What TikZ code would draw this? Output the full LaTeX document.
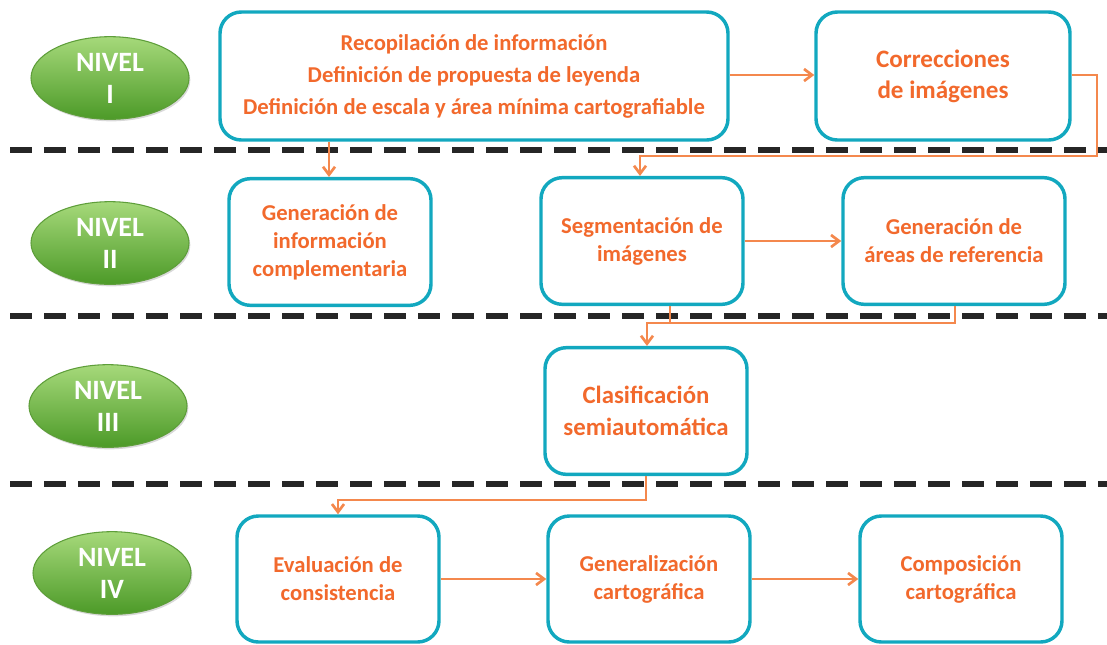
\documentclass[tikz,border=0pt]{standalone}
\usepackage{fontspec}
\setmainfont{Carlito}
\usetikzlibrary{shapes.geometric,arrows.meta,shadows}
\definecolor{teal}{HTML}{12A8BF}
\definecolor{orng}{HTML}{F2692C}
\definecolor{lnorng}{HTML}{F4884D}
\definecolor{gtop}{HTML}{A6D97A}
\definecolor{gbot}{HTML}{4C9A28}
\definecolor{gline}{HTML}{5E9E3A}
\tikzset{
  box/.style={draw=teal,line width=2.6pt,rounded corners=16pt,fill=white,
    text=orng,font=\bfseries\fontsize{17}{21}\selectfont,align=center,inner sep=0pt},
  nivel/.style={ellipse,draw=gline,line width=0.8pt,top color=gtop,bottom color=gbot,
    text=white,font=\fontsize{21}{24}\selectfont\bfseries,align=center,
    minimum width=118.5pt,minimum height=62pt,inner sep=0pt,
    drop shadow={shadow xshift=1pt,shadow yshift=-1.5pt,opacity=0.3}},
  sep/.style={draw=black!85,line width=3.8pt,dash pattern=on 16.5pt off 9pt},
  conn/.style={draw=lnorng,line width=2.2pt,-{Straight Barb[length=6pt,width=9pt,line width=2pt]}},
  seg/.style={draw=lnorng,line width=2.2pt}
}
\begin{document}
\begin{tikzpicture}[x=0.75pt,y=-0.75pt]
\useasboundingbox (0,0) rectangle (1107,644);
% separators
\draw[sep] (10,150) -- (1107,150);
\draw[sep] (10,316) -- (1107,316);
\draw[sep] (10,484) -- (1107,484);
% levels
\node[nivel] (n1) at (110,78) {NIVEL\\I};
\node[nivel] (n2) at (110,243) {NIVEL\\II};
\node[nivel] (n3) at (108,406) {NIVEL\\III};
\node[nivel] (n4) at (112,573) {NIVEL\\IV};
% boxes
\node[box,minimum width=381pt,minimum height=96pt,font=\bfseries\fontsize{17}{24}\selectfont] (b1) at (474,76) {Recopilación de información\\Definición de propuesta de leyenda\\Definición de escala y área mínima cartografiable};
\node[box,minimum width=190.5pt,minimum height=96pt,font=\bfseries\fontsize{18.8}{23}\selectfont] (b2) at (943,76) {Correcciones\\de imágenes};
\node[box,minimum width=151.5pt,minimum height=95pt] (b3) at (330,242) {Generación de\\información\\complementaria};
\node[box,minimum width=151.5pt,minimum height=95pt] (b4) at (642,241) {Segmentación de\\imágenes};
\node[box,minimum width=166.5pt,minimum height=95pt] (b5) at (954,241) {Generación de\\áreas de referencia};
\node[box,minimum width=151.5pt,minimum height=95pt,font=\bfseries\fontsize{18.6}{24}\selectfont] (b6) at (646,411) {Clasificación\\semiautomática};
\node[box,minimum width=151.5pt,minimum height=94.5pt] (b7) at (338,579) {Evaluación de\\consistencia};
\node[box,minimum width=151.5pt,minimum height=94.5pt] (b8) at (649,579) {Generalización\\cartográfica};
\node[box,minimum width=151.5pt,minimum height=94.5pt] (b9) at (961,579) {Composición\\cartográfica};
% connectors
\draw[conn] (b1.east |- 0,75) -- (b2.west |- 0,75);
\draw[conn] (b2.east |- 0,75) -| (1097,156) -| (640,0 |- b4.north);
\draw[conn] (329,0 |- b1.south) -- (329,0 |- b3.north);
\draw[conn] (b4.east) -- (b5.west);
\draw[seg] (670,0 |- b4.south) -- (670,323);
\draw[conn] (955,0 |- b5.south) |- (647,323) -- (647,0 |- b6.north);
\draw[conn] (b6.south) |- (338,500) -- (338,0 |- b7.north);
\draw[conn] (b7.east) -- (b8.west);
\draw[conn] (b8.east) -- (b9.west);
\end{tikzpicture}
\end{document}
